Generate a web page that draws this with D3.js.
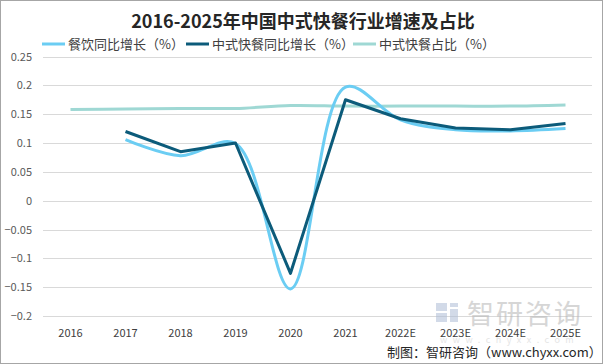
<!DOCTYPE html>
<html>
<head>
<meta charset="utf-8">
<script src="https://cdn.jsdelivr.net/npm/d3@7"></script>
<style>
  body { margin: 0; background: #fff; }
  text { font-family: "Noto Sans CJK SC", "Liberation Sans", sans-serif; }
</style>
</head>
<body>
<div id="chart"></div>
<script>
// 数据
var years = ["2016", "2017", "2018", "2019", "2020", "2021", "2022E", "2023E", "2024E", "2025E"];
var cateringGrowth = [null, 0.106, 0.078, 0.099, -0.153, 0.197, 0.140, 0.123, 0.121, 0.125];
var fastFoodGrowth = [null, 0.120, 0.085, 0.100, -0.126, 0.175, 0.142, 0.126, 0.123, 0.134];
var fastFoodShare = [0.158, 0.159, 0.160, 0.160, 0.165, 0.164, 0.164, 0.164, 0.164, 0.166];
var yTicks = [0.25, 0.2, 0.15, 0.1, 0.05, 0, -0.05, -0.1, -0.15, -0.2];
var seriesNames = ["餐饮同比增长（%）", "中式快餐同比增长（%）", "中式快餐占比（%）"];
var seriesColors = ["#6bcdf3", "#0c5b7a", "#9fd8d4"];

var W = 605, H = 364;
var svg = d3.select("#chart").append("svg")
    .attr("width", W)
    .attr("height", H);

// 外枠
svg.append("rect")
    .attr("x", 0.5).attr("y", 0.5)
    .attr("width", W - 3).attr("height", H - 1)
    .attr("fill", "#fff")
    .attr("stroke", "#a6a6a6");

var x = d3.scaleBand().domain(years).range([43, 593]);
var y = d3.scaleLinear().domain([-0.2, 0.25]).range([316, 56.5]);

// grid
svg.append("g").selectAll("line")
    .data(yTicks)
    .enter().append("line")
    .attr("x1", 43).attr("x2", 592)
    .attr("y1", function(d){ return Math.round(y(d)) + 0.5; })
    .attr("y2", function(d){ return Math.round(y(d)) + 0.5; })
    .attr("stroke", "#d9d9d9")
    .attr("stroke-width", 1);

// y labels
svg.append("g").selectAll("text")
    .data(yTicks)
    .enter().append("text")
    .attr("x", 32)
    .attr("y", function(d){ return y(d) + 4; })
    .attr("text-anchor", "end")
    .attr("font-size", 11)
    .attr("fill", "#595959")
    .text(function(d){ return d3.format("")(d); });

// watermark (在坐标轴标签之下)
var wm = svg.append("g").attr("opacity", 0.55);
wm.append("rect").attr("x", 436).attr("y", 303).attr("width", 11).attr("height", 8).attr("fill", "#aebdd6");
wm.append("rect").attr("x", 436).attr("y", 313).attr("width", 11).attr("height", 9).attr("fill", "#aebdd6");
wm.append("rect").attr("x", 450).attr("y", 303).attr("width", 8).attr("height", 4).attr("fill", "#aebdd6");
wm.append("rect").attr("x", 450).attr("y", 309).attr("width", 8).attr("height", 13).attr("fill", "#aebdd6");
wm.append("text")
    .attr("x", 467).attr("y", 324)
    .attr("font-size", 27)
    .attr("fill", "#b5b5b5")
    .attr("letter-spacing", 2)
    .text("智研咨询");
wm.append("text")
    .attr("x", 440).attr("y", 343)
    .attr("font-size", 9)
    .attr("fill", "#d0d0d0")
    .attr("letter-spacing", 5.5)
    .text("www.chyxx.com");

// x labels
svg.append("g").selectAll("text")
    .data(years)
    .enter().append("text")
    .attr("x", function(d){ return x(d) + x.bandwidth() / 2; })
    .attr("y", 337)
    .attr("text-anchor", "middle")
    .attr("font-size", 11)
    .attr("fill", "#404040")
    .text(function(d){ return d; });

// lines
var lineSmooth = d3.line()
    .x(function(d){ return x(d.k) + x.bandwidth() / 2; })
    .y(function(d){ return y(d.v); })
    .curve(d3.curveCatmullRom.alpha(0.5));

var lineStraight = d3.line()
    .x(function(d){ return x(d.k) + x.bandwidth() / 2; })
    .y(function(d){ return y(d.v); });

function pairs(arr){
    return years.map(function(k, i){ return { k: k, v: arr[i] }; })
        .filter(function(d){ return d.v !== null; });
}

svg.append("path")
    .attr("d", lineSmooth(pairs(fastFoodShare)))
    .attr("fill", "none")
    .attr("stroke", seriesColors[2])
    .attr("stroke-width", 3);

svg.append("path")
    .attr("d", lineSmooth(pairs(cateringGrowth)))
    .attr("fill", "none")
    .attr("stroke", seriesColors[0])
    .attr("stroke-width", 3);

svg.append("path")
    .attr("d", lineStraight(pairs(fastFoodGrowth)))
    .attr("fill", "none")
    .attr("stroke", seriesColors[1])
    .attr("stroke-width", 3)
    .attr("stroke-linejoin", "round");

// title
svg.append("text")
    .attr("x", 303).attr("y", 28)
    .attr("text-anchor", "middle")
    .attr("font-size", 18)
    .attr("font-weight", "bold")
    .attr("fill", "#262626")
    .text("2016-2025年中国中式快餐行业增速及占比");

// legend
var legendX = [42, 186, 353];
var lg = svg.append("g").selectAll("g")
    .data(seriesNames)
    .enter().append("g")
    .attr("transform", function(d, i){ return "translate(" + legendX[i] + ",44)"; });
lg.append("line")
    .attr("x1", 0).attr("x2", 23)
    .attr("stroke", function(d, i){ return seriesColors[i]; })
    .attr("stroke-width", 3);
lg.append("text")
    .attr("x", 26).attr("y", 4.5)
    .attr("font-size", 13)
    .attr("fill", "#404040")
    .text(function(d){ return d; });

// source
svg.append("text")
    .attr("x", 387).attr("y", 357)
    .attr("font-size", 13)
    .attr("fill", "#262626")
    .text("制图：智研咨询（www.chyxx.com）");
</script>
</body>
</html>
